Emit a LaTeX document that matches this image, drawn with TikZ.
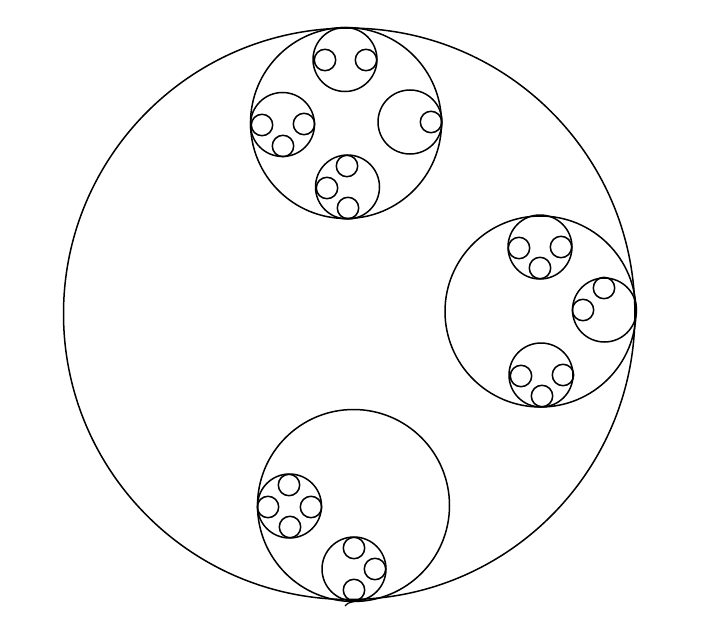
\documentclass[tikz,border=0pt]{standalone}
\usetikzlibrary{arrows.meta}
\begin{document}
\begin{tikzpicture}[x=1pt,y=-1pt,line width=1.5pt,
  ring/.style={draw=black}]
\useasboundingbox (0,0) rectangle (716,637);
% main circle
\draw[ring] (349.2,313.8) circle (285.7);
% top group
\draw[ring] (346,123) circle (95.5);
\draw[ring] (345,59.5) circle (32);
\draw[ring] (325,60) circle (10.7);
\draw[ring] (366,60) circle (10.7);
\draw[ring] (282.5,124.5) circle (32);
\draw[ring] (262,125) circle (10.7);
\draw[ring] (304,124) circle (10.7);
\draw[ring] (283,146) circle (10.7);
\draw[ring] (410,122) circle (32);
\draw[ring] (431,122) circle (10.7);
\draw[ring] (347.5,187) circle (32);
\draw[ring] (347,166) circle (10.7);
\draw[ring] (327,188) circle (10.7);
\draw[ring] (348,208) circle (10.7);
% right group
\draw[ring] (540.5,311.5) circle (95.5);
\draw[ring] (540,247) circle (32);
\draw[ring] (519,248) circle (10.7);
\draw[ring] (561,247) circle (10.7);
\draw[ring] (540,268) circle (10.7);
\draw[ring] (604.5,310) circle (32);
\draw[ring] (604,288) circle (10.7);
\draw[ring] (583,310) circle (10.7);
\draw[ring] (541,375) circle (32);
\draw[ring] (521,376) circle (10.7);
\draw[ring] (563,375) circle (10.7);
\draw[ring] (542,396) circle (10.7);
% bottom group
\draw[ring] (353.5,505.5) circle (96);
\draw[ring] (289.5,506) circle (32);
\draw[ring] (289,485) circle (10.7);
\draw[ring] (268,507) circle (10.7);
\draw[ring] (311,507) circle (10.7);
\draw[ring] (290,527) circle (10.7);
\draw[ring] (354,569) circle (32);
\draw[ring] (354,548) circle (10.7);
\draw[ring] (375,569) circle (10.7);
\draw[ring] (354,590) circle (10.7);
% small hook at bottom
\draw[line width=1.2pt] (345,606) .. controls (348,603) .. (354,601.5);
\end{tikzpicture}
\end{document}
